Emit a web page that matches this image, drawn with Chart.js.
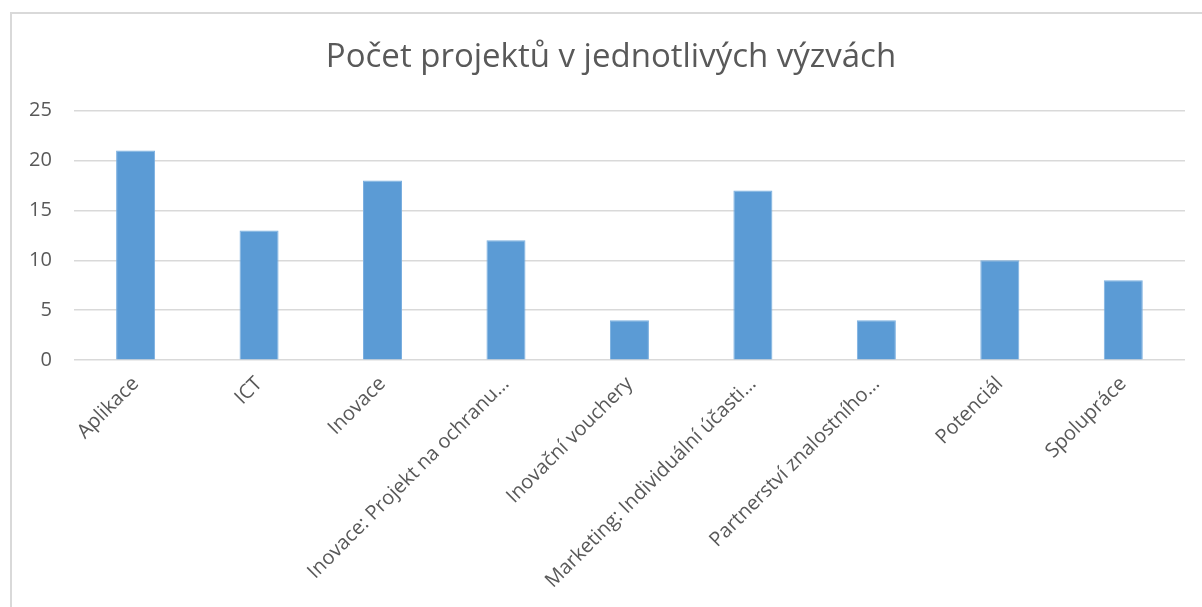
<!DOCTYPE html>
<html>
<head>
<meta charset="utf-8">
<script src="https://cdn.jsdelivr.net/npm/chart.js@4"></script>
<style>
    html, body { margin: 0; padding: 0; background: #fff; }
    #frame {
        position: absolute; left: 10px; top: 12px; width: 1300px; height: 700px;
        border-left: 2px solid #d9d9d9; border-top: 2px solid #d9d9d9;
    }
    #wrap { position: absolute; left: 0; top: 0; width: 1202px; height: 607px; }
</style>
</head>
<body>
<div id="frame"></div>
<div id="wrap"><canvas id="chart" width="1202" height="607"></canvas></div>
<script>
const categories = [
    'Aplikace',
    'ICT',
    'Inovace',
    'Inovace: Projekt na ochranu…',
    'Inovační vouchery',
    'Marketing: Individuální účasti…',
    'Partnerství znalostního…',
    'Potenciál',
    'Spolupráce'
];
const projectCounts = [21, 13, 18, 12, 4, 17, 4, 10, 8];
const yTicks = [0, 5, 10, 15, 20, 25];

const textColor = '#595959';
const fontFamily = '"Open Sans", "Segoe UI", sans-serif';

// the original title sits centred on the frame, not on the canvas
const titleShift = {
    id: 'titleShift',
    afterLayout: function(chart) {
        if (chart.titleBlock) {
            chart.titleBlock.left += 30;
        }
    }
};

document.addEventListener('DOMContentLoaded', function() {
    const ctx = document.getElementById('chart');

    new Chart(ctx, {
        type: 'bar',
        data: {
            labels: categories,
            datasets: [{
                label: 'Počet projektů',
                data: projectCounts,
                backgroundColor: '#5b9bd5',
                borderColor: '#7aafe0',
                borderWidth: 1,
                barPercentage: 0.316,
                categoryPercentage: 1
            }]
        },
        options: {
            responsive: false,
            animation: false,
            layout: {
                padding: { top: 20, left: 7, right: 17, bottom: 10 }
            },
            plugins: {
                legend: { display: false },
                tooltip: { enabled: false },
                title: {
                    display: true,
                    text: 'Počet projektů v jednotlivých výzvách',
                    color: textColor,
                    font: { family: fontFamily, size: 33, weight: 'normal' },
                    padding: { top: 18, bottom: 33 }
                }
            },
            scales: {
                x: {
                    grid: { display: false },
                    border: { display: false },
                    ticks: {
                        color: textColor,
                        font: { family: fontFamily, size: 20 },
                        minRotation: 45,
                        maxRotation: 45,
                        autoSkip: false,
                        padding: 4
                    },
                    afterFit: function(axis) {
                        // rotated first label should not push the plot to the right
                        axis.paddingLeft = 0;
                        axis.paddingRight = 0;
                    }
                },
                y: {
                    min: 0,
                    max: yTicks[yTicks.length - 1],
                    afterBuildTicks: function(axis) {
                        axis.ticks = yTicks.map(v => ({ value: v }));
                    },
                    grid: { color: '#d9d9d9', lineWidth: 1.5, drawTicks: false },
                    border: { display: false },
                    ticks: {
                        color: textColor,
                        font: { family: fontFamily, size: 20 },
                        padding: 22
                    }
                }
            }
        },
        plugins: [titleShift]
    });
});
</script>
</body>
</html>
